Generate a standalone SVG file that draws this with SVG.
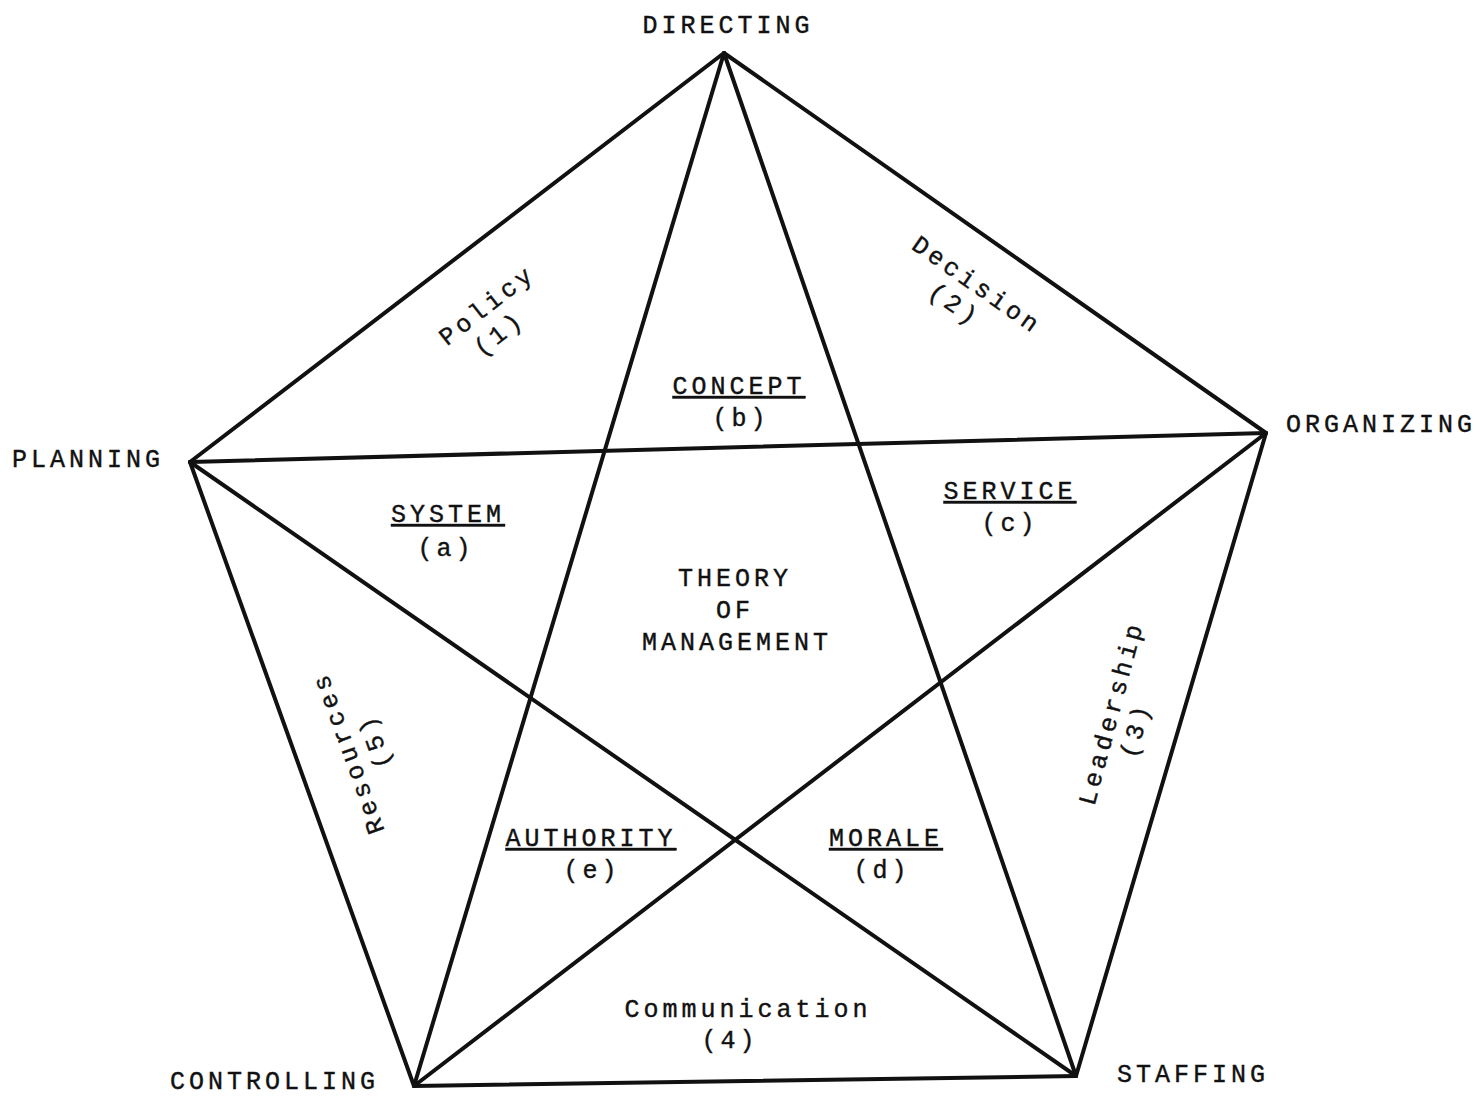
<svg xmlns="http://www.w3.org/2000/svg" width="1481" height="1096" viewBox="0 0 1481 1096">
<style>
.t{font-family:"Liberation Mono","DejaVu Sans Mono",monospace;font-size:25px;fill:#111;stroke:#111;stroke-width:0.4;letter-spacing:4px}
.m{text-anchor:middle}
.u{text-decoration:underline}
.e{stroke:#111;stroke-width:4;fill:none;stroke-linecap:round;stroke-linejoin:round}
</style>
<rect width="1481" height="1096" fill="#fff"/>
<g id="connectors" class="e">
<line x1="724" y1="53" x2="1266" y2="433"/>
<line x1="1266" y1="433" x2="1076" y2="1076"/>
<line x1="1076" y1="1076" x2="414" y2="1086"/>
<line x1="414" y1="1086" x2="190" y2="462"/>
<line x1="190" y1="462" x2="724" y2="53"/>
<line x1="724" y1="53" x2="1076" y2="1076"/>
<line x1="724" y1="53" x2="414" y2="1086"/>
<line x1="190" y1="462" x2="1266" y2="433"/>
<line x1="190" y1="462" x2="1076" y2="1076"/>
<line x1="414" y1="1086" x2="1266" y2="433"/>
</g>
<g id="directing"><text class="t m" x="728" y="33">DIRECTING</text></g>
<g id="organizing"><text class="t" x="1286" y="432">ORGANIZING</text></g>
<g id="planning"><text class="t" x="12" y="467">PLANNING</text></g>
<g id="controlling"><text class="t" x="170" y="1089">CONTROLLING</text></g>
<g id="staffing"><text class="t" x="1117" y="1082">STAFFING</text></g>
<g id="policy" transform="translate(487,305) rotate(-38)">
<text class="t m" x="0" y="8">Policy</text>
<text class="t m" x="-8" y="38">(1)</text>
</g>
<g id="decision" transform="translate(977,285) rotate(35)">
<text class="t m" x="0" y="8">Decision</text>
<text class="t m" x="-7" y="37">(2)</text>
</g>
<g id="leadership" transform="translate(1111,713) rotate(-75)">
<text class="t m" x="0" y="8">Leadership</text>
<text class="t m" x="-10" y="36">(3)</text>
</g>
<g id="resources" transform="translate(348,753) rotate(-110)">
<text class="t m" x="0" y="8">Resources</text>
<text class="t m" x="2" y="37">(5)</text>
</g>
<g id="communication">
<text class="t m" x="748" y="1017">Communication</text>
<text class="t m" x="730" y="1048">(4)</text>
</g>
<g id="concept">
<text class="t m u" x="739" y="394">CONCEPT</text>
<text class="t m" x="741" y="426">(b)</text>
</g>
<g id="system">
<text class="t m u" x="448" y="522">SYSTEM</text>
<text class="t m" x="446" y="556">(a)</text>
</g>
<g id="service">
<text class="t m u" x="1010" y="499">SERVICE</text>
<text class="t m" x="1010" y="531">(c)</text>
</g>
<g id="theory">
<text class="t m" x="735" y="586">THEORY</text>
<text class="t m" x="735" y="618">OF</text>
<text class="t m" x="737" y="650">MANAGEMENT</text>
</g>
<g id="authority">
<text class="t m u" x="591" y="846">AUTHORITY</text>
<text class="t m" x="592" y="878">(e)</text>
</g>
<g id="morale">
<text class="t m u" x="886" y="846">MORALE</text>
<text class="t m" x="882" y="878">(d)</text>
</g>
</svg>
